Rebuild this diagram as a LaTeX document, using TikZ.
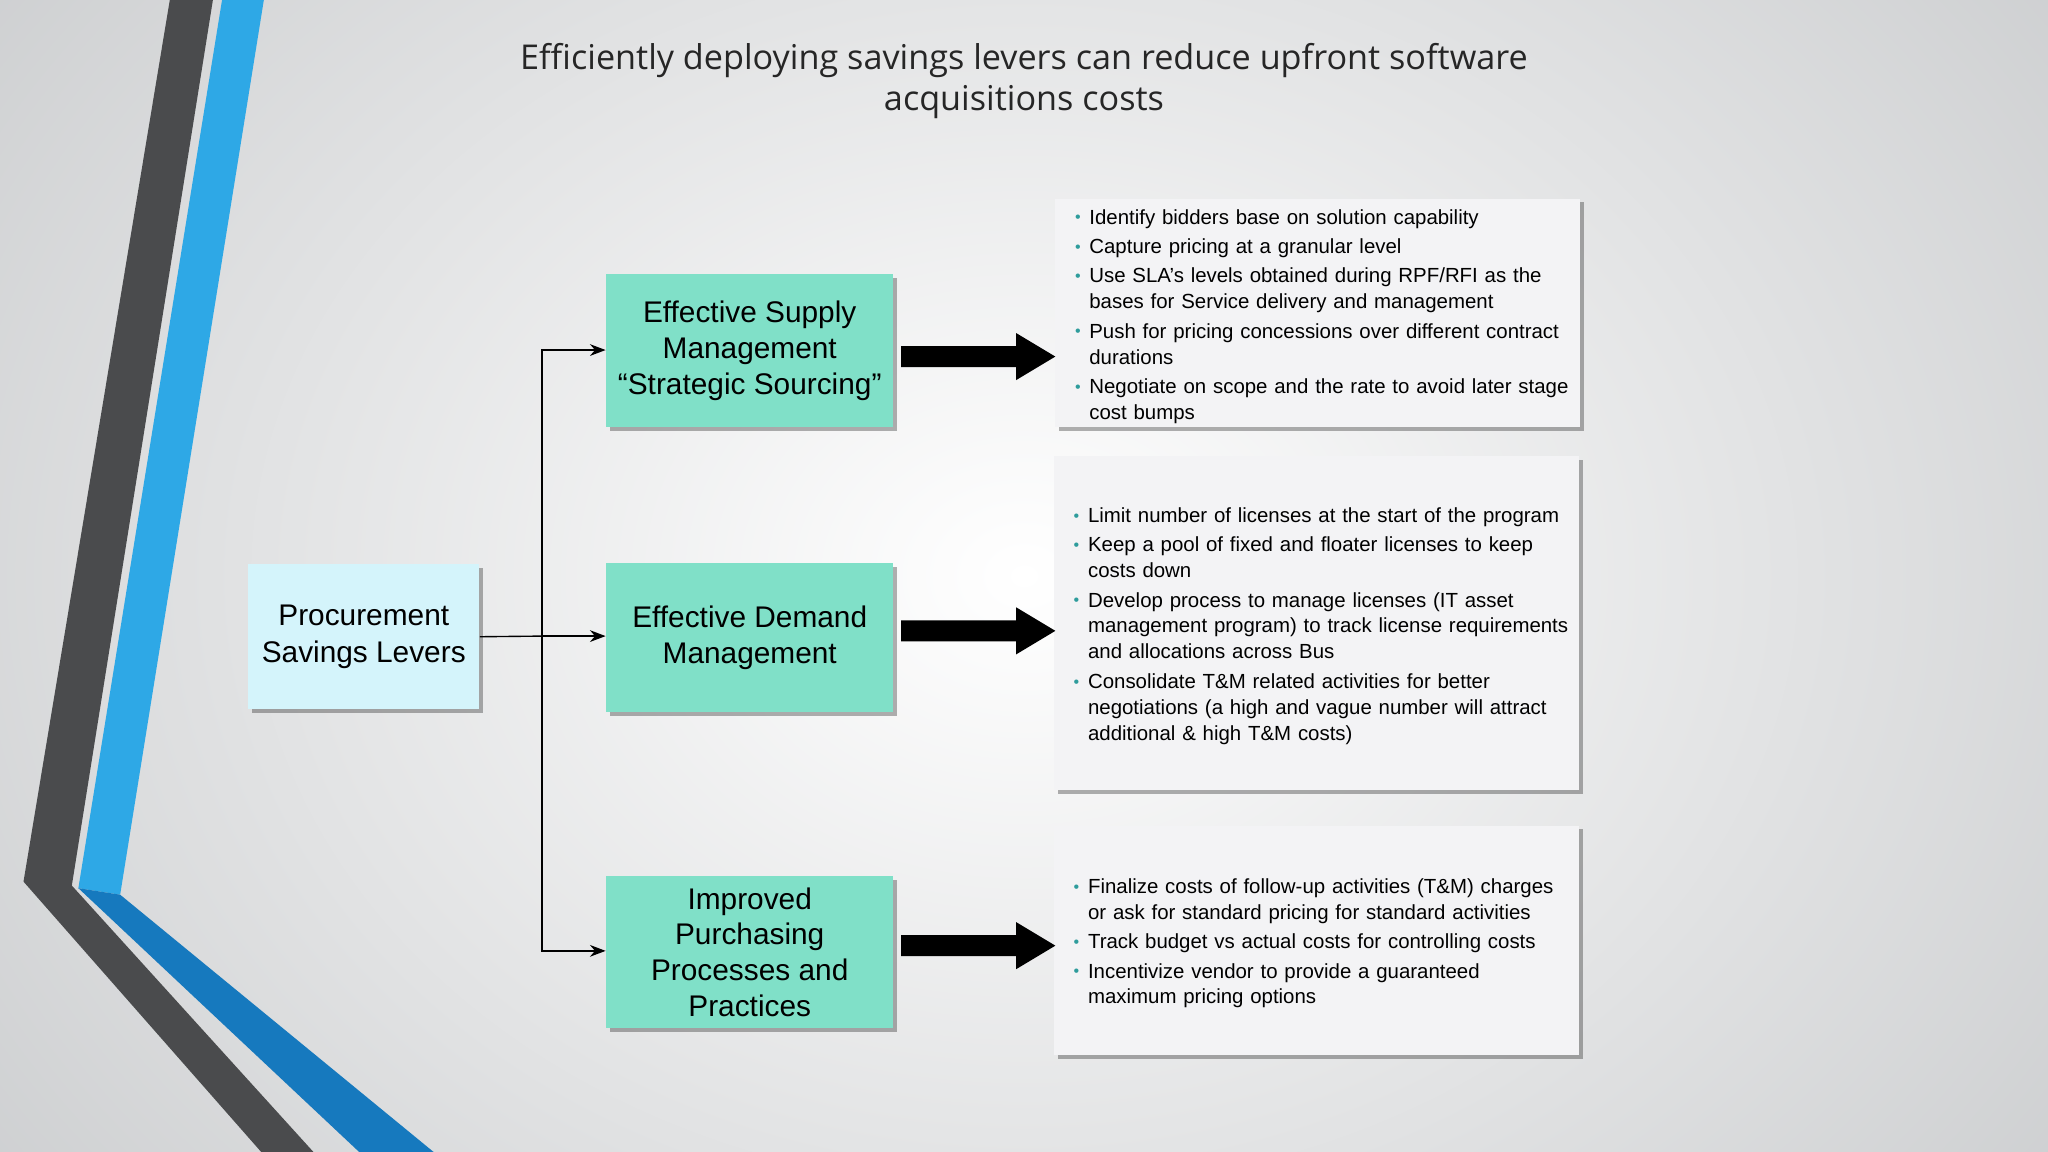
\documentclass[tikz,border=0pt]{standalone}
\usepackage{fontspec}
\setmainfont{Liberation Sans}
\newfontfamily\titlefont{Open Sans}
\usetikzlibrary{shadows,arrows.meta}
\definecolor{bg}{HTML}{EEEEF0}
\definecolor{bgedge}{HTML}{C4C6C8}
\definecolor{darkband}{HTML}{4A4B4D}
\definecolor{blueA}{HTML}{2EA8E6}
\definecolor{blueB}{HTML}{1679BE}
\definecolor{greenbox}{HTML}{80E0C8}
\definecolor{cyanbox}{HTML}{D4F4FB}
\definecolor{listbox}{HTML}{F3F3F5}
\definecolor{dot}{HTML}{2E9C9C}
\newcommand{\bl}[1]{\hyphenpenalty=10000 \exhyphenpenalty=10000 \par\hangindent=0.22cm\hangafter=1\noindent\makebox[0.22cm][l]{\textcolor{dot}{\scriptsize\raisebox{0.5pt}{•}}}#1\par\vspace{1.5pt}}
\newcommand{\bigarrow}[2]{\fill[black] (#1,#2-8) -- (#1+88,#2-8) -- (#1+88,#2-18) -- (#1+118,#2) -- (#1+88,#2+18) -- (#1+88,#2+8) -- (#1,#2+8) -- cycle;}
\tikzset{
 shd/.style={drop shadow={shadow xshift=0.6mm,shadow yshift=-0.6mm,fill=black,opacity=0.3}},
 lever/.style={draw=none,fill=greenbox,shd,minimum width=4.4cm,minimum height=2.3cm,align=center,font=\fontsize{13}{15.6}\selectfont,inner sep=0pt},
 listb/.style={draw=none,fill=listbox,shd,minimum width=8.04cm,align=left},
 listt/.style={text width=7.64cm,font=\fontsize{8.9}{11.3}\selectfont,inner sep=0pt,align=left},
 conn/.style={-{Stealth[length=2.4mm,width=1.8mm]},line width=0.6pt}
}
\begin{document}
\begin{tikzpicture}[x=0.02cm,y=-0.02cm]
\useasboundingbox (0,0) rectangle (1568,882);
\shade[inner color=white,outer color=bgedge] (-400,-500) rectangle (1968,1382);
\clip (0,0) rectangle (1568,882);
% left bands
\fill[darkband] (130,0) -- (163,0) -- (55,678) -- (240,882) -- (200,882) -- (18,675) -- cycle;
\fill[blueA] (170,0) -- (202,0) -- (92,685) -- (60,680) -- cycle;
\fill[blueB] (60,680) -- (92,685) -- (332,882) -- (275,882) -- cycle;
% title
\node[font=\titlefont\fontsize{14.9}{18.2}\selectfont,align=center,text=black!85] (title) at (784,62) {Efficiently deploying savings levers can reduce upfront software\\acquisitions costs};
% boxes
\node[draw=none,fill=cyanbox,shd,minimum width=3.54cm,minimum height=2.22cm,align=center,font=\fontsize{13}{16}\selectfont,inner sep=0pt] (proc) at (278.5,487.5) {Procurement\\Savings Levers};
\node[lever,minimum height=2.34cm] (l1) at (574,268.5) {Effective Supply\\Management\\“Strategic Sourcing”};
\node[lever,minimum height=2.28cm] (l2) at (574,488) {Effective Demand\\Management};
\node[lever,minimum height=2.32cm] (l3) at (574,729) {Improved\\Purchasing\\Processes and\\Practices};
\node[listb,minimum height=3.5cm] (b1) at (1009,239.5) {};
\node[listb,minimum height=5.12cm] (b2) at (1008,477) {};
\node[listb,minimum height=3.52cm] (b3) at (1008,720) {};
\node[listt] (t1) at (1014,238) {\bl{Identify bidders base on solution capability}\bl{Capture pricing at a granular level}\bl{Use SLA’s levels obtained during RPF/RFI as the bases for Service delivery and management}\bl{Push for pricing concessions over different contract durations}\bl{Negotiate on scope and the rate to avoid later stage cost bumps}};
\node[listt] (t2) at (1013,475) {\bl{Limit number of licenses at the start of the program}\bl{Keep a pool of fixed and floater licenses to keep costs down}\bl{Develop process to manage licenses (IT asset management program) to track license requirements and allocations across Bus}\bl{Consolidate T\&M related activities for better negotiations (a high and vague number will attract additional \& high T\&M costs)}};
\node[listt] (t3) at (1013,718) {\bl{Finalize costs of follow-up activities (T\&M) charges or ask for standard pricing for standard activities}\bl{Track budget vs actual costs for controlling costs}\bl{Incentivize vendor to provide a guaranteed maximum pricing options}};
% big arrows
\bigarrow{690}{273}
\bigarrow{690}{483}
\bigarrow{690}{724}
% connectors
\coordinate (j) at (415,487);
\draw[line width=0.6pt] (proc.east) -- (j);
\draw[conn] (j) |- (l1.west |- 0,268);
\draw[conn] (j) -- (l2.west |- j);
\draw[conn] (j) |- (l3.west |- 0,728);
\end{tikzpicture}
\end{document}
